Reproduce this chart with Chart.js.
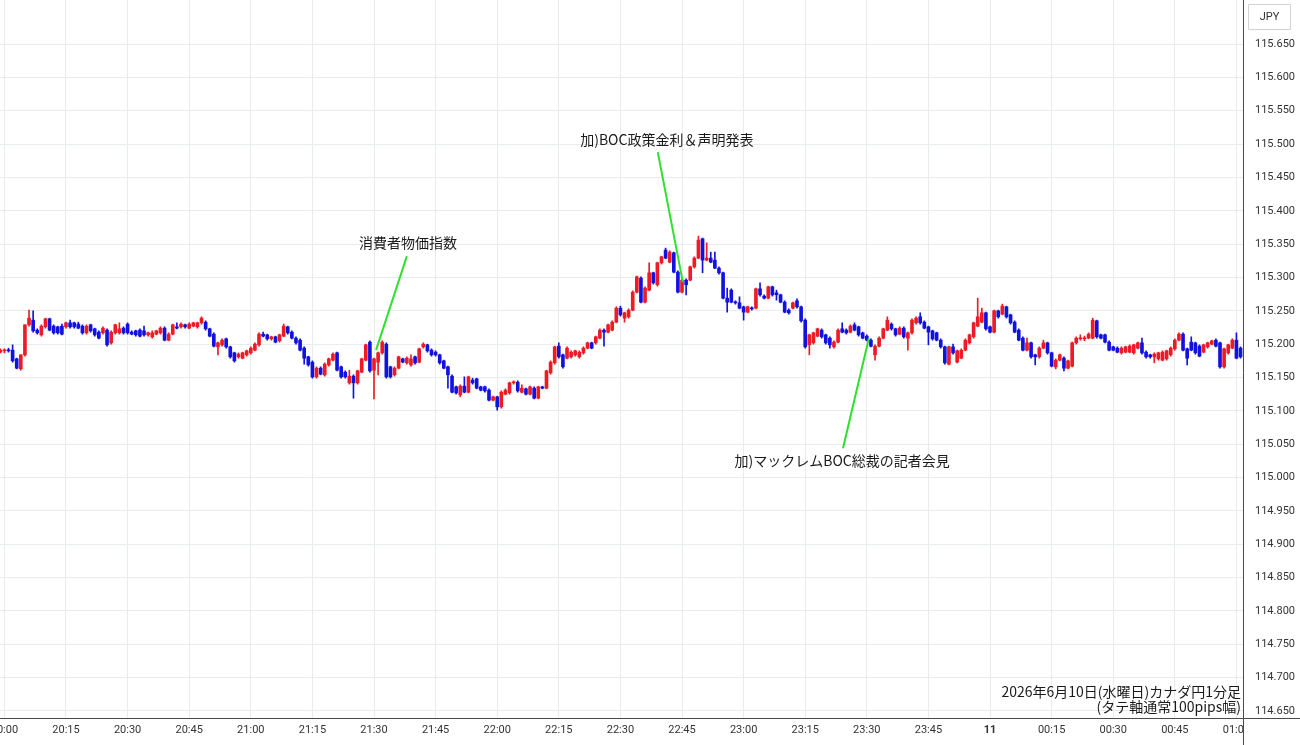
<!DOCTYPE html>
<html><head><meta charset="utf-8">
<script src="https://cdn.jsdelivr.net/npm/chart.js@4.4.1/dist/chart.umd.min.js"></script>
<style>html,body{margin:0;padding:0;background:#fff;}#wrap{width:1300px;height:745px;}</style>
</head><body><div id="wrap"><canvas id="c" width="1300" height="745"></canvas></div>
<script>
// 1-minute candles, first candle = 19:59 (minute -1 from 20:00)
const firstMinute = -1;
const opens = [
115.188,115.190,115.191,115.191,115.178,115.163,115.184,115.229,115.236,115.221,
115.214,115.226,115.238,115.227,115.226,115.227,115.226,115.232,115.232,115.230,
115.227,115.217,115.229,115.223,115.218,115.217,115.221,115.202,115.217,115.217,
115.224,115.230,115.218,115.220,115.221,115.220,115.214,115.211,115.215,115.217,
115.224,115.206,115.215,115.226,115.226,115.229,115.224,115.227,115.226,115.232,
115.233,115.223,115.215,115.196,115.199,115.208,115.196,115.187,115.181,115.179,
115.184,115.187,115.191,115.199,115.215,115.214,115.208,115.211,115.205,115.212,
115.226,115.218,115.209,115.206,115.194,115.181,115.173,115.151,115.164,115.154,
115.169,115.176,115.187,115.166,115.158,115.142,115.152,115.142,115.158,115.176,
115.203,115.161,115.173,115.187,115.200,115.166,115.154,115.164,115.178,115.172,
115.169,115.181,115.173,115.196,115.199,115.191,115.188,115.184,115.175,115.166,
115.152,115.136,115.124,115.137,115.128,115.146,115.148,115.136,115.136,115.131,
115.116,115.121,115.106,115.125,115.127,115.142,115.143,115.128,115.133,115.125,
115.134,115.119,115.136,115.134,115.157,115.172,115.197,115.184,115.179,115.181,
115.184,115.181,115.187,115.194,115.202,115.202,115.209,115.221,115.218,115.221,
115.233,115.254,115.239,115.241,115.251,115.278,115.299,115.263,115.281,115.307,
115.289,115.322,115.341,115.323,115.337,115.308,115.278,115.296,115.296,115.316,
115.329,115.358,115.326,115.329,115.326,115.314,115.307,115.269,115.281,115.263,
115.262,115.256,115.248,115.254,115.254,115.283,115.272,115.269,115.286,115.277,
115.274,115.263,115.251,115.254,115.265,115.256,115.236,115.199,115.202,115.212,
115.221,115.214,115.209,115.196,115.203,115.223,115.221,115.218,115.229,115.226,
115.217,115.212,115.206,115.184,115.197,115.209,115.221,115.230,115.223,115.215,
115.224,115.209,115.217,115.232,115.241,115.233,115.226,115.220,115.217,115.206,
115.196,115.170,115.196,115.173,115.179,115.191,115.202,115.211,115.227,115.233,
115.247,115.226,115.218,115.250,115.245,115.256,115.244,115.233,115.221,115.209,
115.191,115.202,115.184,115.181,115.194,115.202,115.187,115.166,115.176,115.179,
115.164,115.167,115.202,115.208,115.208,115.209,115.209,115.235,115.214,115.214,
115.203,115.196,115.194,115.187,115.188,115.188,115.187,115.194,115.202,115.188,
115.184,115.181,115.178,115.176,115.178,115.184,115.193,115.206,115.215,115.193,
115.203,115.202,115.197,115.188,115.196,115.200,115.206,115.202,115.166,115.187,
115.194,115.206,115.194];
const highs = [
115.193,115.193,115.194,115.199,115.179,115.184,115.229,115.251,115.250,115.223,
115.229,115.239,115.239,115.229,115.227,115.230,115.233,115.236,115.233,115.233,
115.229,115.229,115.230,115.224,115.220,115.226,115.223,115.220,115.230,115.232,
115.226,115.232,115.220,115.221,115.223,115.227,115.218,115.220,115.221,115.226,
115.226,115.217,115.230,115.232,115.232,115.230,115.232,115.233,115.233,115.241,
115.235,115.224,115.217,115.203,115.208,115.209,115.197,115.188,115.187,115.188,
115.191,115.196,115.202,115.217,115.218,115.215,115.212,115.212,115.215,115.230,
115.227,115.220,115.211,115.208,115.196,115.182,115.175,115.166,115.166,115.172,
115.179,115.187,115.188,115.167,115.160,115.161,115.154,115.161,115.179,115.200,
115.205,115.179,115.188,115.205,115.202,115.167,115.166,115.182,115.179,115.181,
115.184,115.182,115.194,115.202,115.200,115.193,115.190,115.185,115.176,115.167,
115.154,115.137,115.139,115.151,115.152,115.149,115.149,115.137,115.137,115.133,
115.122,115.122,115.130,115.133,115.143,115.145,115.145,115.139,115.134,115.137,
115.136,115.137,115.137,115.161,115.175,115.197,115.202,115.185,115.196,115.190,
115.191,115.190,115.196,115.203,115.203,115.212,115.223,115.223,115.230,115.235,
115.256,115.257,115.248,115.253,115.280,115.302,115.301,115.286,115.322,115.308,
115.323,115.332,115.344,115.340,115.338,115.310,115.298,115.298,115.317,115.331,
115.362,115.359,115.352,115.338,115.338,115.316,115.308,115.284,115.283,115.265,
115.271,115.257,115.257,115.256,115.284,115.292,115.274,115.287,115.287,115.281,
115.275,115.265,115.253,115.263,115.268,115.257,115.238,115.215,115.218,115.224,
115.223,115.215,115.211,115.205,115.223,115.232,115.223,115.229,115.232,115.227,
115.218,115.214,115.208,115.199,115.211,115.224,115.241,115.232,115.224,115.226,
115.226,115.218,115.238,115.241,115.247,115.235,115.227,115.221,115.218,115.208,
115.197,115.197,115.200,115.191,115.193,115.208,115.215,115.233,115.269,115.254,
115.248,115.227,115.251,115.251,115.260,115.257,115.245,115.235,115.223,115.211,
115.209,115.203,115.185,115.196,115.206,115.203,115.188,115.178,115.185,115.181,
115.176,115.203,115.211,115.214,115.212,115.217,115.239,115.236,115.215,115.215,
115.205,115.197,115.196,115.196,115.197,115.199,115.200,115.203,115.209,115.190,
115.185,115.187,115.188,115.190,115.191,115.196,115.208,115.217,115.217,115.194,
115.211,115.203,115.199,115.200,115.203,115.206,115.208,115.203,115.194,115.200,
115.208,115.217,115.196];
const lows = [
115.187,115.187,115.188,115.173,115.163,115.161,115.182,115.227,115.218,115.215,
115.212,115.224,115.220,115.215,115.215,115.214,115.224,115.224,115.224,115.223,
115.215,115.215,115.218,115.212,115.208,115.215,115.197,115.200,115.215,115.215,
115.215,115.215,115.214,115.212,115.211,115.212,115.212,115.209,115.214,115.215,
115.205,115.205,115.214,115.223,115.224,115.224,115.223,115.226,115.224,115.230,
115.221,115.211,115.196,115.184,115.197,115.194,115.179,115.173,115.179,115.178,
115.182,115.185,115.190,115.197,115.211,115.206,115.206,115.202,115.203,115.211,
115.215,115.208,115.200,115.190,115.170,115.167,115.149,115.149,115.154,115.152,
115.167,115.175,115.160,115.149,115.149,115.140,115.119,115.140,115.157,115.175,
115.158,115.118,115.154,115.185,115.149,115.149,115.152,115.163,115.172,115.170,
115.167,115.170,115.172,115.194,115.188,115.182,115.182,115.170,115.163,115.134,
115.127,115.125,115.121,115.127,115.127,115.140,115.133,115.130,115.128,115.115,
115.115,115.101,115.104,115.124,115.125,115.140,115.128,115.127,115.124,115.124,
115.118,115.118,115.133,115.133,115.155,115.170,115.179,115.164,115.178,115.179,
115.182,115.179,115.185,115.193,115.193,115.200,115.208,115.197,115.217,115.220,
115.232,115.242,115.233,115.239,115.250,115.277,115.262,115.262,115.280,115.290,
115.287,115.320,115.328,115.322,115.307,115.277,115.277,115.274,115.295,115.314,
115.328,115.307,115.325,115.322,115.313,115.305,115.268,115.248,115.262,115.260,
115.253,115.236,115.247,115.251,115.253,115.272,115.268,115.268,115.272,115.266,
115.262,115.247,115.245,115.253,115.254,115.233,115.194,115.184,115.200,115.211,
115.209,115.200,115.194,115.194,115.202,115.217,115.215,115.217,115.220,115.212,
115.208,115.205,115.196,115.176,115.196,115.208,115.220,115.221,115.212,115.214,
115.209,115.191,115.215,115.230,115.230,115.223,115.199,115.206,115.205,115.194,
115.170,115.169,115.185,115.172,115.178,115.190,115.200,115.209,115.226,115.232,
115.221,115.217,115.217,115.239,115.244,115.239,115.230,115.217,115.205,115.190,
115.190,115.179,115.169,115.179,115.193,115.185,115.166,115.163,115.175,115.160,
115.163,115.166,115.200,115.206,115.205,115.208,115.208,115.209,115.208,115.202,
115.190,115.190,115.187,115.185,115.187,115.187,115.185,115.193,115.185,115.179,
115.179,115.172,115.176,115.175,115.176,115.182,115.191,115.205,115.190,115.169,
115.190,115.185,115.181,115.187,115.194,115.199,115.196,115.164,115.164,115.185,
115.193,115.178,115.179];
const closes = [
115.191,115.191,115.190,115.175,115.164,115.184,115.229,115.239,115.220,115.217,
115.227,115.238,115.221,115.217,115.217,115.215,115.232,115.226,115.226,115.224,
115.217,115.227,115.220,115.214,115.209,115.224,115.199,115.218,115.229,115.223,
115.217,115.217,115.215,115.214,115.212,115.214,115.217,115.217,115.220,115.224,
115.206,115.215,115.229,115.224,115.230,115.226,115.230,115.232,115.232,115.239,
115.223,115.212,115.197,115.202,115.206,115.196,115.181,115.175,115.185,115.187,
115.190,115.194,115.200,115.215,115.212,115.208,115.211,115.203,115.214,115.227,
115.217,115.209,115.202,115.191,115.179,115.169,115.151,115.164,115.155,115.170,
115.178,115.185,115.161,115.151,115.151,115.152,115.142,115.160,115.178,115.199,
115.160,115.178,115.187,115.203,115.151,115.151,115.164,115.181,115.173,115.179,
115.178,115.172,115.193,115.200,115.190,115.184,115.184,115.172,115.164,115.154,
115.128,115.127,115.137,115.128,115.151,115.142,115.134,115.131,115.130,115.116,
115.121,115.106,115.128,115.131,115.142,115.143,115.130,115.134,115.125,115.136,
115.119,115.136,115.134,115.160,115.173,115.196,115.181,115.166,115.194,115.188,
115.190,115.188,115.194,115.202,115.194,115.211,115.221,115.218,115.229,115.233,
115.254,115.244,115.247,115.251,115.278,115.301,115.263,115.284,115.307,115.292,
115.322,115.331,115.329,115.338,115.308,115.278,115.296,115.289,115.316,115.329,
115.356,115.326,115.329,115.323,115.314,115.307,115.269,115.263,115.263,115.262,
115.254,115.248,115.256,115.253,115.283,115.274,115.269,115.286,115.274,115.274,
115.263,115.248,115.247,115.262,115.256,115.235,115.196,115.214,115.217,115.223,
115.211,115.202,115.199,115.203,115.221,115.218,115.217,115.227,115.221,115.214,
115.209,115.206,115.197,115.197,115.209,115.223,115.236,115.223,115.214,115.224,
115.211,115.217,115.236,115.239,115.232,115.224,115.218,115.208,115.206,115.196,
115.172,115.196,115.187,115.190,115.191,115.206,115.214,115.232,115.241,115.247,
115.223,115.218,115.250,115.241,115.257,115.241,115.232,115.218,115.206,115.191,
115.202,115.181,115.181,115.194,115.202,115.187,115.167,115.176,115.184,115.164,
115.175,115.202,115.209,115.209,115.209,115.215,115.236,115.211,115.209,115.203,
115.191,115.191,115.188,115.194,115.196,115.197,115.199,115.202,115.187,115.181,
115.181,115.185,115.187,115.188,115.190,115.194,115.206,115.215,115.191,115.179,
115.191,115.187,115.182,115.199,115.202,115.205,115.197,115.166,115.193,115.199,
115.206,115.179,115.181];

const xTickMinutes = [0,15,30,45,60,75,90,105,120,135,150,165,180,195,210,225,240,255,270,285,300];
const xTickLabels = ['20:00','20:15','20:30','20:45','21:00','21:15','21:30','21:45','22:00','22:15','22:30','22:45','23:00','23:15','23:30','23:45','11','00:15','00:30','00:45','01:00'];
const yTicks = [114.65,114.70,114.75,114.80,114.85,114.90,114.95,115.00,115.05,115.10,115.15,115.20,115.25,115.30,115.35,115.40,115.45,115.50,115.55,115.60,115.65];

// event callouts: anchor (minute, price) on the candle and label position in data units
const eventTexts = ['消費者物価指数','加)BOC政策金利＆声明発表','加)マックレムBOC総裁の記者会見'];
const eventAnchorMinute = [90.5, 165.2, 210.5];
const eventAnchorPrice = [115.191, 115.293, 115.209];
const eventLabelMinute = [98.3, 161.3, 204.0];
const eventLabelPrice = [115.352, 115.506, 115.026];
const eventLineStartMinute = [98.0, 159.1, 204.2];
const eventLineStartPrice = [115.332, 115.488, 115.044];

const titleLines = ['2026年6月10日(水曜日)カナダ円1分足','(タテ軸通常100pips幅)'];
const currencyLabel = 'JPY';

const UP = '#ee1b24';
const DOWN = '#1212e0';
const GRID = '#e7ecf0';
const AXIS = '#4a4a4a';
const TXT = '#333333';
const AX_FONT = 'Roboto, "Liberation Sans", sans-serif';
const JP_FONT = '"Noto Sans CJK JP", "Noto Sans", sans-serif';

const colorOf = (k) => closes[k] >= opens[k] ? UP : DOWN;
const bodyData = opens.map((o, k) => ({x: firstMinute + k, y: [o, closes[k]]}));
const wickData = lows.map((l, k) => ({x: firstMinute + k, y: [l, highs[k]]}));
const candleColors = opens.map((o, k) => colorOf(k));

const overlay = {
  id: 'overlay',
  afterDatasetsDraw(chart) {
    const ctx = chart.ctx, xs = chart.scales.x, ys = chart.scales.y;
    ctx.save();
    // callout lines
    ctx.strokeStyle = '#2fe02f';
    ctx.lineWidth = 2;
    for (let i = 0; i < eventTexts.length; i++) {
      ctx.beginPath();
      ctx.moveTo(xs.getPixelForValue(eventLineStartMinute[i]), ys.getPixelForValue(eventLineStartPrice[i]));
      ctx.lineTo(xs.getPixelForValue(eventAnchorMinute[i]), ys.getPixelForValue(eventAnchorPrice[i]));
      ctx.stroke();
    }
    ctx.fillStyle = '#1a1a1a';
    ctx.font = '14px ' + JP_FONT;
    ctx.textAlign = 'center';
    ctx.textBaseline = 'middle';
    for (let i = 0; i < eventTexts.length; i++) {
      ctx.fillText(eventTexts[i], xs.getPixelForValue(eventLabelMinute[i]), ys.getPixelForValue(eventLabelPrice[i]));
    }
    ctx.restore();
  },
  afterDraw(chart) {
    const ctx = chart.ctx, area = chart.chartArea;
    const W = chart.width, H = chart.height;
    ctx.save();
    // mask x labels overflowing into the price-axis column
    ctx.fillStyle = '#ffffff';
    ctx.fillRect(area.right + 1, area.bottom + 1, W - area.right, H - area.bottom);
    // frame lines
    ctx.strokeStyle = AXIS;
    ctx.lineWidth = 1;
    ctx.beginPath();
    ctx.moveTo(0, Math.round(area.bottom) + 0.5);
    ctx.lineTo(W, Math.round(area.bottom) + 0.5);
    ctx.moveTo(Math.round(area.right) + 0.5, 0);
    ctx.lineTo(Math.round(area.right) + 0.5, H);
    ctx.stroke();
    // currency box
    const bx = area.right + 5, by = 4, bw = 42, bh = 25;
    ctx.fillStyle = '#ffffff';
    ctx.strokeStyle = '#cfd3d8';
    ctx.beginPath();
    ctx.rect(bx + 0.5, by + 0.5, bw, bh);
    ctx.fill();
    ctx.stroke();
    ctx.fillStyle = TXT;
    ctx.font = '11px ' + AX_FONT;
    ctx.textAlign = 'center';
    ctx.textBaseline = 'middle';
    ctx.fillText(currencyLabel, bx + bw / 2 + 0.5, by + bh / 2 + 1);
    // title text, bottom-right of plot
    ctx.fillStyle = '#1a1a1a';
    ctx.font = '14px ' + JP_FONT;
    ctx.textAlign = 'right';
    ctx.textBaseline = 'middle';
    ctx.fillText(titleLines[0], area.right - 2, area.bottom - 26);
    ctx.fillText(titleLines[1], area.right - 2, area.bottom - 11);
    ctx.restore();
  }
};

new Chart(document.getElementById('c'), {
  type: 'bar',
  data: {
    datasets: [
      {data: bodyData, backgroundColor: candleColors, borderWidth: 0, barThickness: 3, minBarLength: 1, grouped: false},
      {data: wickData, backgroundColor: candleColors, borderWidth: 0, barThickness: 1, minBarLength: 1, grouped: false}
    ]
  },
  options: {
    responsive: false,
    animation: false,
    events: [],
    layout: {padding: 0},
    plugins: {legend: {display: false}, tooltip: {enabled: false}},
    scales: {
      x: {
        type: 'linear', min: -1.07, max: 301.6, offset: false,
        afterBuildTicks: (s) => { s.ticks = xTickMinutes.map(v => ({value: v})); },
        afterFit: (s) => { s.height = 27; s.paddingLeft = 0; s.paddingRight = 0; s.paddingTop = 0; s.paddingBottom = 0; },
        grid: {color: GRID, drawTicks: false, offset: false},
        border: {display: false},
        ticks: {
          autoSkip: false, maxRotation: 0, minRotation: 0, padding: 6, color: TXT,
          font: (c) => ({family: AX_FONT, size: 11, weight: (c.tick && c.tick.value === 240) ? 'bold' : 'normal'}),
          callback: (v) => xTickLabels[xTickMinutes.indexOf(v)]
        }
      },
      y: {
        position: 'right', min: 114.6395, max: 115.716,
        afterBuildTicks: (s) => { s.ticks = yTicks.map(v => ({value: v})); },
        afterFit: (s) => { s.width = 57; s.paddingLeft = 0; s.paddingRight = 0; s.paddingTop = 0; s.paddingBottom = 0; },
        grid: {color: GRID, drawTicks: false},
        border: {display: false},
        ticks: {padding: 12, color: TXT, font: {family: AX_FONT, size: 11}, callback: (v) => v.toFixed(3)}
      }
    }
  },
  plugins: [overlay]
});
</script>
</body></html>
